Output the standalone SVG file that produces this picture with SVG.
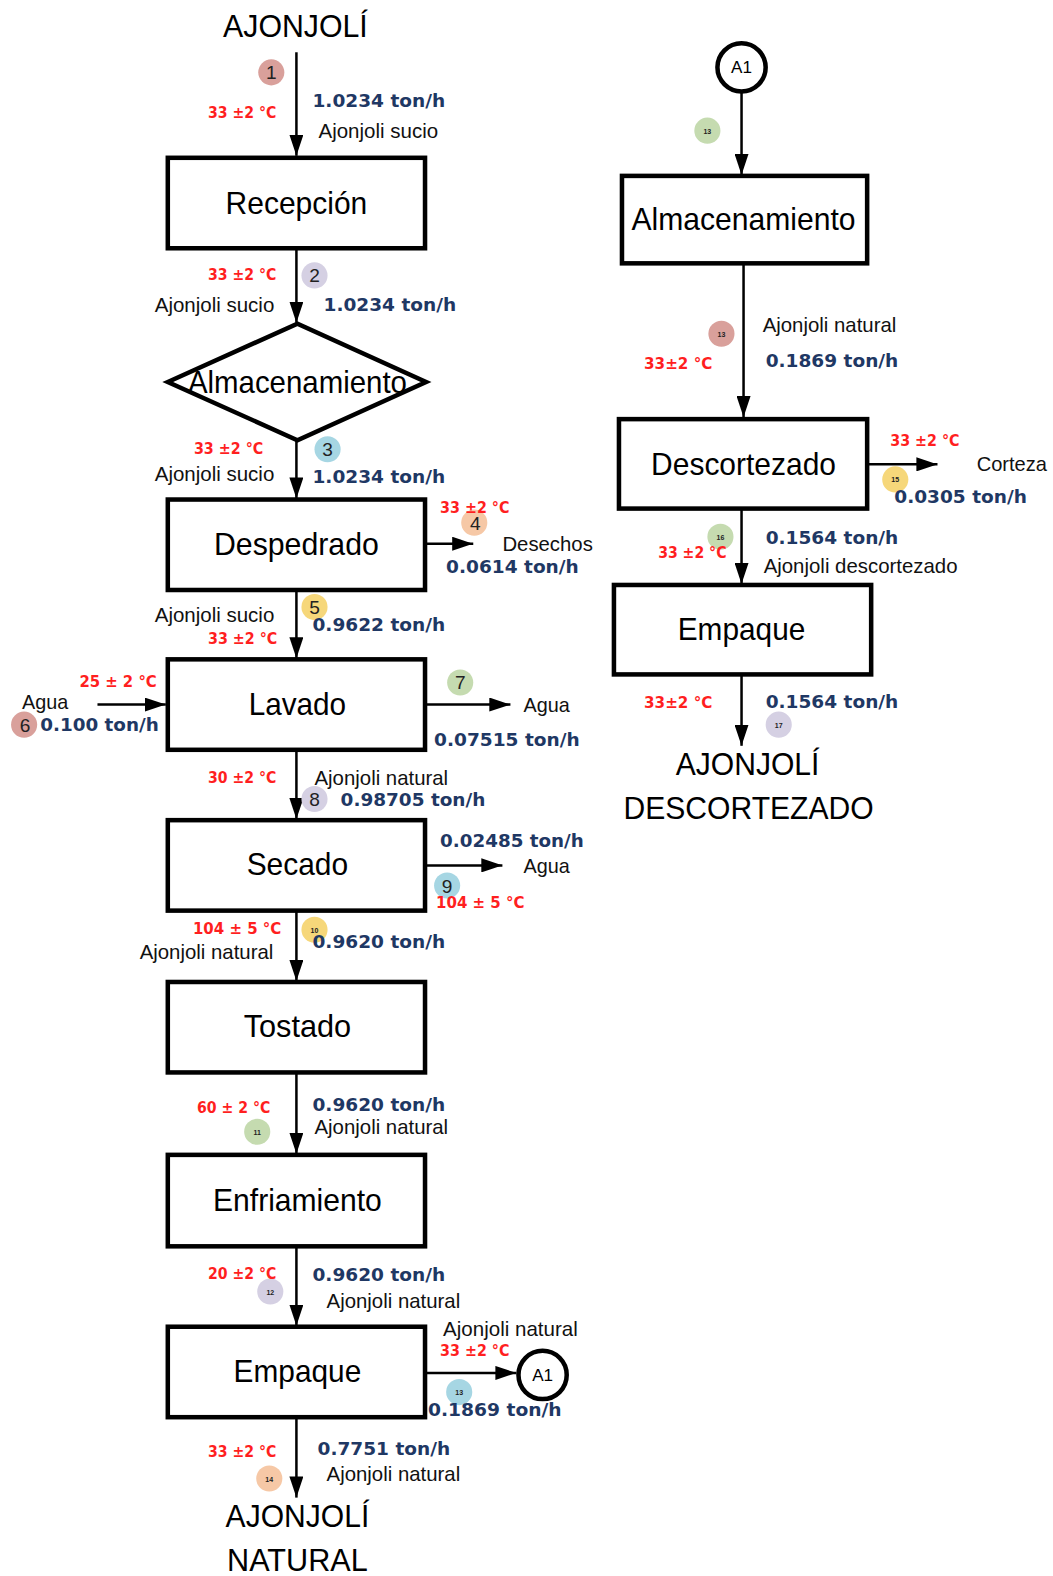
<svg xmlns="http://www.w3.org/2000/svg" width="1053" height="1576" viewBox="0 0 1053 1576">
<defs>
<marker id="ah" viewBox="0 0 21 14" refX="21" refY="7" markerWidth="21" markerHeight="14" markerUnits="userSpaceOnUse" orient="auto">
<path d="M0,0 L21,7 L0,14 Z" fill="#000"/>
</marker>
<style>
.box{fill:#fff;stroke:#000;stroke-width:4.5}
.lk{stroke:#000;stroke-width:2.5;fill:none;marker-end:url(#ah)}
.lbl{font-family:"Liberation Sans",Arial,sans-serif;font-size:31px;fill:#000;text-anchor:middle}
.mat{font-family:"Liberation Sans",Arial,sans-serif;font-size:20.5px;fill:#111}
.flow{font-family:"DejaVu Sans",Verdana,sans-serif;font-weight:bold;font-size:17.5px;fill:#1f3864}
.temp{font-family:"DejaVu Sans",Verdana,sans-serif;font-weight:bold;font-size:15px;fill:#ff1f1f}
.num{font-family:"Liberation Sans",Arial,sans-serif;font-size:19px;fill:#222;text-anchor:middle}
.tiny{font-family:"Liberation Sans",Arial,sans-serif;font-size:7px;font-weight:bold;fill:#222;text-anchor:middle}
.conn{fill:#fff;stroke:#000;stroke-width:4.5}
.cl{font-family:"Liberation Sans",Arial,sans-serif;font-size:17px;fill:#000;text-anchor:middle}
</style>
</defs>
<rect width="1053" height="1576" fill="#fff"/>
<g transform="scale(1.0048,1.0051)">

<g id="connectors">
<line class="lk" x1="295" y1="52" x2="295" y2="155"/>
<line class="lk" x1="295" y1="247" x2="295" y2="321"/>
<line class="lk" x1="295" y1="438" x2="295" y2="496"/>
<line class="lk" x1="423" y1="541" x2="471" y2="541"/>
<line class="lk" x1="295" y1="587" x2="295" y2="655"/>
<line class="lk" x1="97" y1="701" x2="165" y2="701"/>
<line class="lk" x1="423" y1="701" x2="508" y2="701"/>
<line class="lk" x1="295" y1="746" x2="295" y2="815"/>
<line class="lk" x1="423" y1="861" x2="500" y2="861"/>
<line class="lk" x1="295" y1="906" x2="295" y2="976"/>
<line class="lk" x1="295" y1="1067" x2="295" y2="1148"/>
<line class="lk" x1="295" y1="1240" x2="295" y2="1319"/>
<line class="lk" x1="423" y1="1366" x2="514" y2="1366"/>
<line class="lk" x1="295" y1="1410" x2="295" y2="1490"/>
<line class="lk" x1="738" y1="91" x2="738" y2="174"/>
<line class="lk" x1="740" y1="262" x2="740" y2="415"/>
<line class="lk" x1="863" y1="462" x2="933" y2="462"/>
<line class="lk" x1="738" y1="506" x2="738" y2="581"/>
<line class="lk" x1="738" y1="671" x2="738" y2="742"/>
</g>

<g id="start">
<text class="lbl" x="294" y="37" textLength="144" lengthAdjust="spacingAndGlyphs">AJONJOLÍ</text>
</g>
<g id="recepcion">
<rect class="box" x="167" y="157" width="256" height="90"/>
<text class="lbl" x="295" y="213" textLength="141" lengthAdjust="spacingAndGlyphs">Recepción</text>
</g>
<g id="almacenamiento1">
<polygon class="box" points="167,380 296,322 424,380 296,438"/>
<text class="lbl" x="296" y="391" textLength="218" lengthAdjust="spacingAndGlyphs">Almacenamiento</text>
</g>
<g id="despedrado">
<rect class="box" x="167" y="497" width="256" height="90"/>
<text class="lbl" x="295" y="552" textLength="164" lengthAdjust="spacingAndGlyphs">Despedrado</text>
</g>
<g id="lavado">
<rect class="box" x="167" y="656" width="256" height="90"/>
<text class="lbl" x="296" y="711" textLength="97" lengthAdjust="spacingAndGlyphs">Lavado</text>
</g>
<g id="secado">
<rect class="box" x="167" y="816" width="256" height="90"/>
<text class="lbl" x="296" y="871" textLength="101" lengthAdjust="spacingAndGlyphs">Secado</text>
</g>
<g id="tostado">
<rect class="box" x="167" y="977" width="256" height="90"/>
<text class="lbl" x="296" y="1032" textLength="107" lengthAdjust="spacingAndGlyphs">Tostado</text>
</g>
<g id="enfriamiento">
<rect class="box" x="167" y="1149" width="256" height="91"/>
<text class="lbl" x="296" y="1205" textLength="168" lengthAdjust="spacingAndGlyphs">Enfriamiento</text>
</g>
<g id="empaque1">
<rect class="box" x="167" y="1320" width="256" height="90"/>
<text class="lbl" x="296" y="1375" textLength="127" lengthAdjust="spacingAndGlyphs">Empaque</text>
</g>
<g id="connA1-out">
<circle class="conn" cx="540" cy="1368" r="24"/>
<text class="cl" x="540" y="1374">A1</text>
</g>
<g id="end-natural">
<text class="lbl" x="296" y="1519" textLength="143" lengthAdjust="spacingAndGlyphs">AJONJOLÍ</text>
<text class="lbl" x="296" y="1563" textLength="140" lengthAdjust="spacingAndGlyphs">NATURAL</text>
</g>

<g id="connA1-in">
<circle class="conn" cx="738" cy="67" r="24"/>
<text class="cl" x="738" y="73">A1</text>
</g>
<g id="almacenamiento2">
<rect class="box" x="619" y="175" width="244" height="87"/>
<text class="lbl" x="740" y="229" textLength="223" lengthAdjust="spacingAndGlyphs">Almacenamiento</text>
</g>
<g id="descortezado">
<rect class="box" x="616" y="417" width="247" height="89"/>
<text class="lbl" x="740" y="473" textLength="184" lengthAdjust="spacingAndGlyphs">Descortezado</text>
</g>
<g id="empaque2">
<rect class="box" x="611" y="582" width="256" height="89"/>
<text class="lbl" x="738" y="637" textLength="127" lengthAdjust="spacingAndGlyphs">Empaque</text>
</g>
<g id="end-descortezado">
<text class="lbl" x="744" y="771" textLength="143" lengthAdjust="spacingAndGlyphs">AJONJOLÍ</text>
<text class="lbl" x="745" y="815" textLength="249" lengthAdjust="spacingAndGlyphs">DESCORTEZADO</text>
</g>

<g id="stream-labels">
<!-- 1 -->
<circle cx="270" cy="72" r="13" fill="#d9a09b"/><text class="num" x="270" y="79">1</text>
<text class="temp" x="207" y="117" textLength="68" lengthAdjust="spacingAndGlyphs">33 ±2 °C</text>
<text class="flow" x="311" y="106" textLength="132" lengthAdjust="spacingAndGlyphs">1.0234 ton/h</text>
<text class="mat" x="317" y="137" textLength="119" lengthAdjust="spacingAndGlyphs">Ajonjoli sucio</text>
<!-- 2 -->
<circle cx="313" cy="274" r="13" fill="#d5d0e3"/><text class="num" x="313" y="281">2</text>
<text class="temp" x="207" y="279" textLength="68" lengthAdjust="spacingAndGlyphs">33 ±2 °C</text>
<text class="mat" x="154" y="310" textLength="119" lengthAdjust="spacingAndGlyphs">Ajonjoli sucio</text>
<text class="flow" x="322" y="309" textLength="132" lengthAdjust="spacingAndGlyphs">1.0234 ton/h</text>
<!-- 3 -->
<circle cx="326" cy="447" r="13" fill="#a6d6e3"/><text class="num" x="326" y="454">3</text>
<text class="temp" x="193" y="452" textLength="69" lengthAdjust="spacingAndGlyphs">33 ±2 °C</text>
<text class="mat" x="154" y="479" textLength="119" lengthAdjust="spacingAndGlyphs">Ajonjoli sucio</text>
<text class="flow" x="311" y="481" textLength="132" lengthAdjust="spacingAndGlyphs">1.0234 ton/h</text>
<!-- 4 -->
<circle cx="472" cy="520" r="13" fill="#f6c8a6"/><text class="num" x="473" y="527">4</text>
<text class="temp" x="438" y="510" textLength="69" lengthAdjust="spacingAndGlyphs">33 ±2 °C</text>
<text class="mat" x="500" y="548" textLength="90" lengthAdjust="spacingAndGlyphs">Desechos</text>
<text class="flow" x="444" y="570" textLength="132" lengthAdjust="spacingAndGlyphs">0.0614 ton/h</text>
<!-- 5 -->
<circle cx="313" cy="604" r="13" fill="#f6d77a"/><text class="num" x="313" y="611">5</text>
<text class="mat" x="154" y="619" textLength="119" lengthAdjust="spacingAndGlyphs">Ajonjoli sucio</text>
<text class="temp" x="207" y="641" textLength="69" lengthAdjust="spacingAndGlyphs">33 ±2 °C</text>
<text class="flow" x="311" y="628" textLength="132" lengthAdjust="spacingAndGlyphs">0.9622 ton/h</text>
<!-- 6 -->
<circle cx="24" cy="721" r="13" fill="#d9a09b"/><text class="num" x="25" y="728">6</text>
<text class="mat" x="22" y="705" textLength="46" lengthAdjust="spacingAndGlyphs">Agua</text>
<text class="temp" x="79" y="684" textLength="77" lengthAdjust="spacingAndGlyphs">25 ± 2  °C</text>
<text class="flow" x="40" y="727" textLength="118" lengthAdjust="spacingAndGlyphs">0.100 ton/h</text>
<!-- 7 -->
<circle cx="458" cy="679" r="13" fill="#c5dbb0"/><text class="num" x="458" y="686">7</text>
<text class="mat" x="521" y="708" textLength="46" lengthAdjust="spacingAndGlyphs">Agua</text>
<text class="flow" x="432" y="742" textLength="145" lengthAdjust="spacingAndGlyphs">0.07515 ton/h</text>
<!-- 8 -->
<circle cx="313" cy="795" r="13" fill="#d5d0e3"/><text class="num" x="313" y="802">8</text>
<text class="temp" x="207" y="779" textLength="68" lengthAdjust="spacingAndGlyphs">30 ±2 °C</text>
<text class="mat" x="313" y="781" textLength="133" lengthAdjust="spacingAndGlyphs">Ajonjoli natural</text>
<text class="flow" x="339" y="802" textLength="144" lengthAdjust="spacingAndGlyphs">0.98705 ton/h</text>
<!-- 9 -->
<circle cx="445" cy="881" r="13" fill="#a6d6e3"/><text class="num" x="445" y="888">9</text>
<text class="flow" x="438" y="843" textLength="143" lengthAdjust="spacingAndGlyphs">0.02485 ton/h</text>
<text class="mat" x="521" y="869" textLength="46" lengthAdjust="spacingAndGlyphs">Agua</text>
<text class="temp" x="434" y="903" textLength="88" lengthAdjust="spacingAndGlyphs">104 ± 5  °C</text>
<!-- 10 -->
<circle cx="313" cy="925" r="13" fill="#f6d77a"/><text class="tiny" x="313" y="928">10</text>
<text class="temp" x="192" y="929" textLength="88" lengthAdjust="spacingAndGlyphs">104 ± 5  °C</text>
<text class="mat" x="139" y="954" textLength="133" lengthAdjust="spacingAndGlyphs">Ajonjoli natural</text>
<text class="flow" x="311" y="943" textLength="132" lengthAdjust="spacingAndGlyphs">0.9620 ton/h</text>
<!-- 11 -->
<circle cx="256" cy="1126" r="13" fill="#c5dbb0"/><text class="tiny" x="256" y="1129">11</text>
<text class="temp" x="196" y="1107" textLength="73" lengthAdjust="spacingAndGlyphs">60 ± 2 °C</text>
<text class="flow" x="311" y="1105" textLength="132" lengthAdjust="spacingAndGlyphs">0.9620 ton/h</text>
<text class="mat" x="313" y="1128" textLength="133" lengthAdjust="spacingAndGlyphs">Ajonjoli natural</text>
<!-- 12 -->
<circle cx="269" cy="1285" r="13" fill="#d5d0e3"/><text class="tiny" x="269" y="1288">12</text>
<text class="temp" x="207" y="1273" textLength="68" lengthAdjust="spacingAndGlyphs">20 ±2 °C</text>
<text class="flow" x="311" y="1275" textLength="132" lengthAdjust="spacingAndGlyphs">0.9620 ton/h</text>
<text class="mat" x="325" y="1301" textLength="133" lengthAdjust="spacingAndGlyphs">Ajonjoli natural</text>
<!-- 13 -->
<circle cx="457" cy="1385" r="13" fill="#a6d6e3"/><text class="tiny" x="457" y="1388">13</text>
<text class="mat" x="441" y="1329" textLength="134" lengthAdjust="spacingAndGlyphs">Ajonjoli natural</text>
<text class="temp" x="438" y="1349" textLength="69" lengthAdjust="spacingAndGlyphs">33 ±2 °C</text>
<text class="flow" x="426" y="1409" textLength="133" lengthAdjust="spacingAndGlyphs">0.1869 ton/h</text>
<!-- 14 -->
<circle cx="268" cy="1471" r="13" fill="#f6c8a6"/><text class="tiny" x="268" y="1474">14</text>
<text class="temp" x="207" y="1450" textLength="68" lengthAdjust="spacingAndGlyphs">33 ±2 °C</text>
<text class="flow" x="316" y="1448" textLength="132" lengthAdjust="spacingAndGlyphs">0.7751 ton/h</text>
<text class="mat" x="325" y="1473" textLength="133" lengthAdjust="spacingAndGlyphs">Ajonjoli natural</text>
<!-- right column -->
<circle cx="704" cy="130" r="13" fill="#c5dbb0"/><text class="tiny" x="704" y="133">13</text>
<circle cx="718" cy="332" r="13" fill="#d9a09b"/><text class="tiny" x="718" y="335">13</text>
<text class="mat" x="759" y="330" textLength="133" lengthAdjust="spacingAndGlyphs">Ajonjoli natural</text>
<text class="temp" x="641" y="367" textLength="68" lengthAdjust="spacingAndGlyphs">33±2 °C</text>
<text class="flow" x="762" y="365" textLength="132" lengthAdjust="spacingAndGlyphs">0.1869 ton/h</text>
<text class="temp" x="886" y="444" textLength="69" lengthAdjust="spacingAndGlyphs">33 ±2 °C</text>
<text class="mat" x="972" y="469" textLength="70" lengthAdjust="spacingAndGlyphs">Corteza</text>
<circle cx="891" cy="477" r="13" fill="#f6d77a"/><text class="tiny" x="891" y="480">15</text>
<text class="flow" x="890" y="500" textLength="132" lengthAdjust="spacingAndGlyphs">0.0305 ton/h</text>
<circle cx="717" cy="534" r="13" fill="#c5dbb0"/><text class="tiny" x="717" y="537">16</text>
<text class="temp" x="655" y="555" textLength="68" lengthAdjust="spacingAndGlyphs">33 ±2 °C</text>
<text class="flow" x="762" y="541" textLength="132" lengthAdjust="spacingAndGlyphs">0.1564 ton/h</text>
<text class="mat" x="760" y="570" textLength="193" lengthAdjust="spacingAndGlyphs">Ajonjoli descortezado</text>
<text class="temp" x="641" y="704" textLength="68" lengthAdjust="spacingAndGlyphs">33±2 °C</text>
<text class="flow" x="762" y="704" textLength="132" lengthAdjust="spacingAndGlyphs">0.1564 ton/h</text>
<circle cx="775" cy="721" r="13" fill="#d5d0e3"/><text class="tiny" x="775" y="724">17</text>
</g>
</g>
</svg>
